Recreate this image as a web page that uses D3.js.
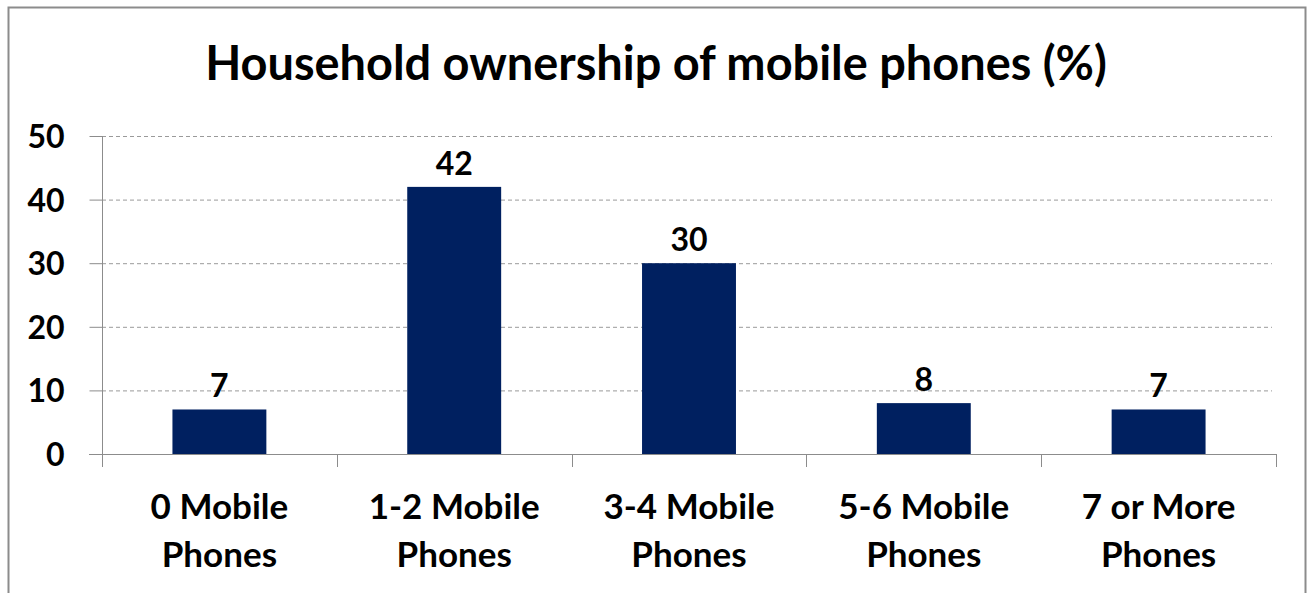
<!DOCTYPE html>
<html><head><meta charset="utf-8">
<script src="https://cdn.jsdelivr.net/npm/d3@7"></script>
<style>
html,body{margin:0;padding:0;background:#fff;}
svg{display:block;}
text{font-family:Lato,"Open Sans",sans-serif;font-weight:bold;fill:#000;}
</style></head>
<body>
<svg id="chart" width="1307" height="593"></svg>
<script>
const categories = [["0 Mobile","Phones"],["1-2 Mobile","Phones"],["3-4 Mobile","Phones"],["5-6 Mobile","Phones"],["7 or More","Phones"]];
const values = [7, 42, 30, 8, 7];
const yTicks = [0, 10, 20, 30, 40, 50];
const title = "Household ownership of mobile phones (%)";

(function(){
const svg = d3.select("#chart");
const pLeft = 102, pRight = 1276, pTop = 136, pBottom = 454;

svg.append("rect").attr("x", 8.5).attr("y", 7.5).attr("width", 1297).attr("height", 600)
  .attr("fill", "#fff").attr("stroke", "#8c8c8c").attr("stroke-width", 2);

const keys = categories.map(c => c.join(" "));
const x = d3.scaleBand().domain(keys).range([pLeft, pRight]).padding(0);
const y = d3.scaleLinear().domain([0, 50]).range([pBottom, pTop]);

// gridlines
svg.append("g").selectAll("line").data(yTicks.filter(t => t > 0)).join("line")
  .attr("x1", pLeft).attr("x2", 1272)
  .attr("y1", d => y(d) + 0.5).attr("y2", d => y(d) + 0.5)
  .attr("stroke", "#9a9a9a").attr("stroke-width", 1).attr("stroke-dasharray", "4,3");

// y axis
const yAxis = svg.append("g").attr("transform", `translate(${pLeft + 0.5},0)`)
  .call(d3.axisLeft(y).tickValues(yTicks).tickSize(13).tickPadding(25).tickFormat(d3.format("d")));
yAxis.select(".domain").attr("stroke", "#8c8c8c").attr("d", `M0,${pTop}V${pBottom}`);
yAxis.selectAll(".tick line").attr("stroke", "#8c8c8c");
yAxis.selectAll(".tick text").attr("font-size", 32).attr("font-family", "Lato").attr("font-weight", "bold").attr("fill", "#000").attr("dy", "0.36em");

// x axis line and boundary ticks
svg.append("line").attr("x1", pLeft - 13).attr("x2", pRight).attr("y1", pBottom + 0.5).attr("y2", pBottom + 0.5)
  .attr("stroke", "#8c8c8c").attr("stroke-width", 1);
const bounds = keys.map(k => x(k)).concat([x(keys[keys.length - 1]) + x.bandwidth()]);
svg.append("g").selectAll("line").data(bounds).join("line")
  .attr("x1", d => Math.round(d) + 0.5).attr("x2", d => Math.round(d) + 0.5)
  .attr("y1", pBottom).attr("y2", pBottom + 13)
  .attr("stroke", "#8c8c8c").attr("stroke-width", 1);

// bars
const bw = x.bandwidth() * 0.4;
svg.append("g").selectAll("rect").data(values).join("rect")
  .attr("x", (d, i) => x(keys[i]) + (x.bandwidth() - bw) / 2)
  .attr("y", d => y(d))
  .attr("width", bw)
  .attr("height", d => y(0) - y(d))
  .attr("fill", "#002060");

// data labels
svg.append("g").selectAll("text").data(values).join("text")
  .attr("x", (d, i) => x(keys[i]) + x.bandwidth() / 2)
  .attr("y", d => y(d) - 12)
  .attr("text-anchor", "middle").attr("font-size", 32)
  .text(d => d);

// category labels
const cat = svg.append("g").selectAll("text").data(categories).join("text")
  .attr("text-anchor", "middle").attr("font-size", 35);
cat.append("tspan").attr("x", (d, i) => x(keys[i]) + x.bandwidth() / 2).attr("y", 519).text(d => d[0]);
cat.append("tspan").attr("x", (d, i) => x(keys[i]) + x.bandwidth() / 2).attr("y", 567).text(d => d[1]);

// title
const t = svg.append("text").attr("x", 656).attr("y", 80).attr("text-anchor", "middle")
  .attr("font-size", 44).text(title);
const len = t.node().getComputedTextLength();
t.attr("font-size", 44 * 902 / len);
})();
</script>
</body></html>
